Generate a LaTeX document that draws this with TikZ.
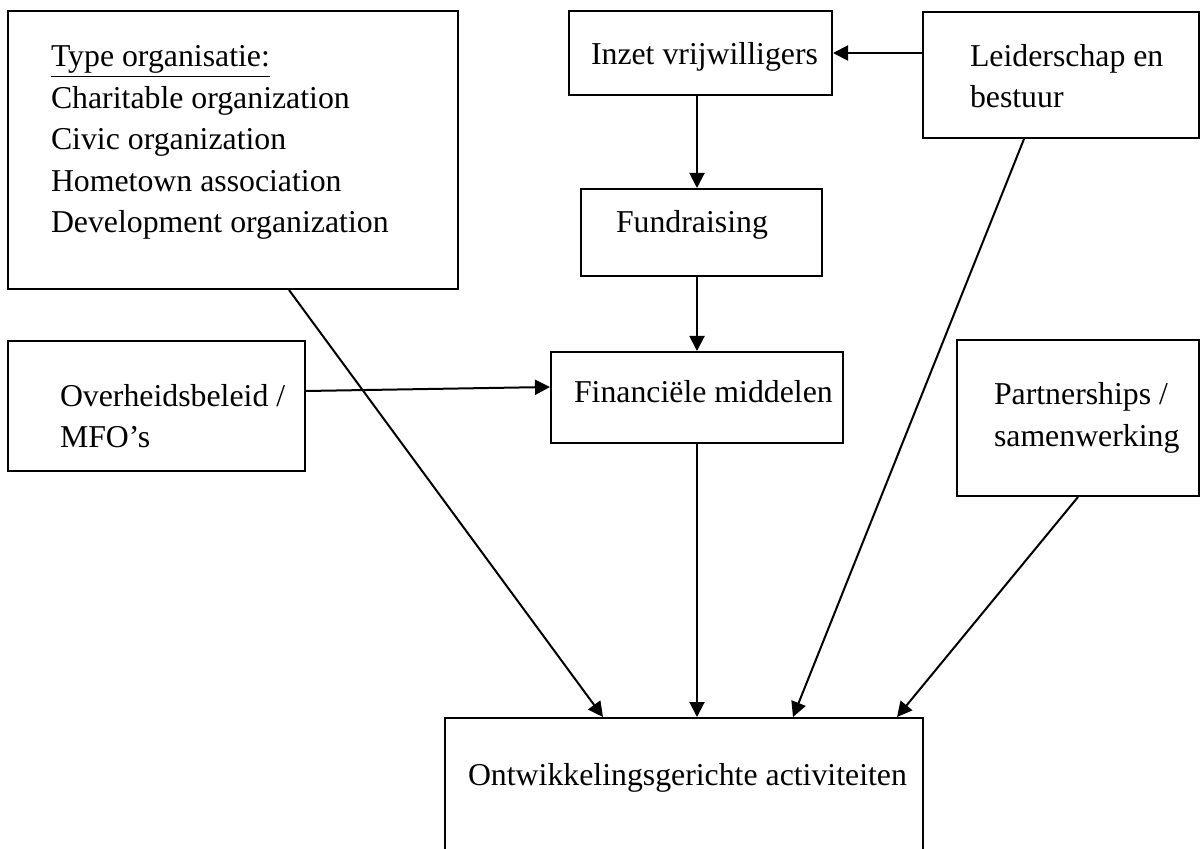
\documentclass[tikz,border=0pt]{standalone}
\usepackage{fontspec}
\setmainfont{Liberation Serif}
\usetikzlibrary{arrows.meta}

\begin{document}
\begin{tikzpicture}[x=0.5pt, y=-0.5pt, line width=1pt,
    box/.style={draw, rectangle, inner sep=0pt},
    txt/.style={anchor=base west, inner sep=0pt, align=left,
        font=\fontsize{15.9}{20.75}\selectfont},
    arr/.style={-{Triangle[length=7.5pt, width=7.5pt]}}]

    \useasboundingbox (0,0) rectangle (1203,849);

    % --- Boxes ---
    \node[box, minimum width=225pt, minimum height=139pt] (type) at (233,150) {};       % Type organisatie
    \node[box, minimum width=131.5pt, minimum height=42pt] (inzet) at (700.5,53) {};    % Vrijwilligers
    \node[box, minimum width=138pt, minimum height=63pt] (leid) at (1061,75) {};        % Leiderschap
    \node[box, minimum width=120.5pt, minimum height=43.5pt] (fund) at (701.5,232.5) {};
    \node[box, minimum width=148.5pt, minimum height=65pt] (overheid) at (156.5,406) {};
    \node[box, minimum width=146pt, minimum height=45.5pt] (fin) at (697,397.5) {};
    \node[box, minimum width=121pt, minimum height=78pt] (partner) at (1078,418) {};
    \node[box, minimum width=239pt, minimum height=91pt] (doel) at (684,809) {};        % runs off the page

    % --- Texts ---
    % base of a multi-line node sits on its last line
    \node[txt] (type-txt) at (50,233) {\underline{Type organisatie:}\\Charitable organization\\Civic organization\\Hometown association\\Development organization};
    \node[txt] (inzet-txt) at (590,65) {Inzet vrijwilligers};
    \node[txt] (leid-txt) at (969,108) {Leiderschap en\\bestuur};
    \node[txt] (fund-txt) at (615,233) {Fundraising};
    \node[txt] (overheid-txt) at (59,448) {Overheidsbeleid /\\MFO’s};
    \node[txt] (fin-txt) at (573,403) {Financiële middelen};
    \node[txt] (partner-txt) at (993,446) {Partnerships /\\samenwerking};
    \node[txt] (doel-txt) at (467,785) {Ontwikkelingsgerichte activiteiten};

    % --- Arrows ---
    \draw[arr] (leid.west |- inzet.east) -- (inzet.east);
    \draw[arr] (fin.north |- inzet.south) -- (fin.north |- fund.north);
    \draw[arr] (fin.north |- fund.south) -- (fin.north);
    \draw[arr] ([yshift=7.5pt]overheid.east) -- ([yshift=5.25pt]fin.west);

    % all four into the bottom box
    \draw[arr] ([xshift=28pt]type.south) -- ([xshift=-40.5pt]doel.north);
    \draw[arr] (fin.south) -- (fin.south |- doel.north);
    \draw[arr] ([xshift=-18.5pt]leid.south) -- ([xshift=54.5pt]doel.north);
    \draw[arr] (partner.south) -- ([xshift=106.5pt]doel.north);

\end{tikzpicture}
\end{document}
